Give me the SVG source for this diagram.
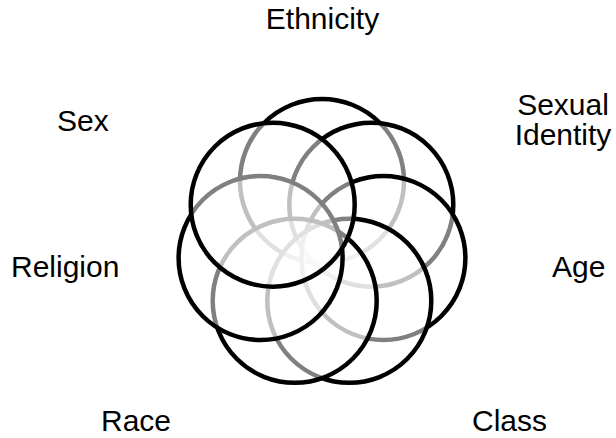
<svg xmlns="http://www.w3.org/2000/svg" width="616" height="438" viewBox="0 0 616 438">
<style>
.c{fill:#fff;fill-opacity:0.5;stroke:#000;stroke-width:4.5}
.t{font-family:"Liberation Sans",Arial,sans-serif;font-size:30px;fill:#000}
</style>
<rect width="616" height="438" fill="#fff"/>
<g id="ethnicity"><circle class="c" cx="322" cy="181" r="82"/><text class="t" x="322.5" y="29" text-anchor="middle">Ethnicity</text></g>
<g id="sexual-identity"><circle class="c" cx="371.3" cy="204.7" r="82"/><text class="t" x="563" y="115" text-anchor="middle">Sexual</text><text class="t" x="563" y="145" text-anchor="middle">Identity</text></g>
<g id="age"><circle class="c" cx="383.4" cy="258" r="82"/><text class="t" x="552" y="277">Age</text></g>
<g id="class"><circle class="c" cx="349.3" cy="300.8" r="82"/><text class="t" x="472" y="431">Class</text></g>
<g id="race"><circle class="c" cx="294.7" cy="300.8" r="82"/><text class="t" x="101" y="431">Race</text></g>
<g id="religion"><circle class="c" cx="260.6" cy="258" r="82"/><text class="t" x="11" y="277">Religion</text></g>
<g id="sex"><circle class="c" cx="272.7" cy="204.7" r="82"/><text class="t" x="57" y="131">Sex</text></g>
<g id="connectors"/>
</svg>
